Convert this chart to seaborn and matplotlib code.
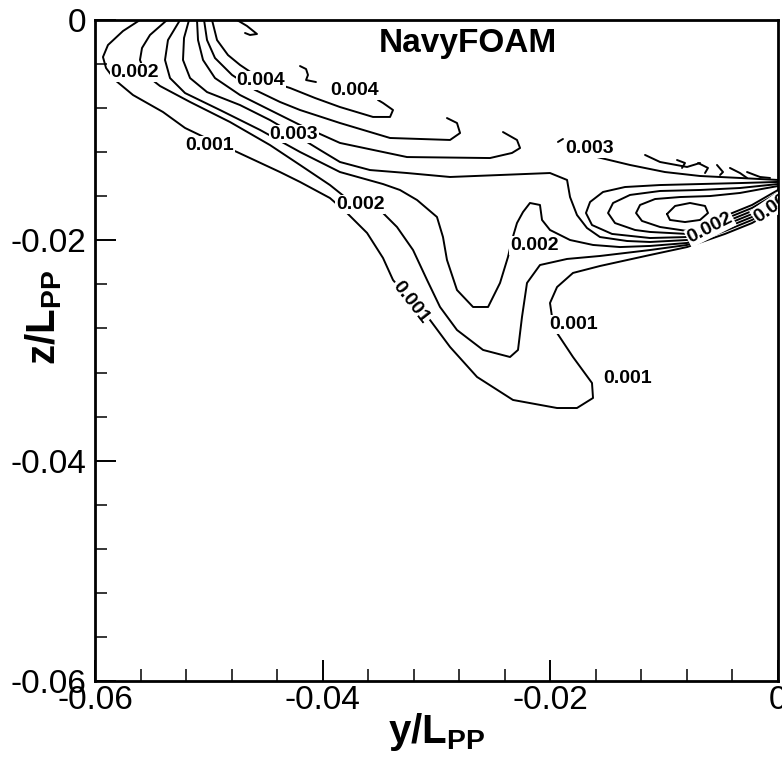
import matplotlib
matplotlib.use("Agg")
import matplotlib.pyplot as plt
from matplotlib.ticker import MultipleLocator, FixedLocator, FixedFormatter
import pandas as pd
import seaborn as sns

# ---- contour lines (y/Lpp, z/Lpp) ----
A_y = [-0.05605,-0.05754,-0.05886,-0.05930,-0.05903,-0.05824,-0.05666,-0.05403,-0.05209,-0.04990,-0.04753,-0.04375,-0.04199,-0.03936,-0.03786,-0.03610,-0.03470,-0.03382,-0.03233,-0.03057,-0.02881,-0.02644,-0.02328,-0.01941,-0.01766,-0.01625,-0.01634,-0.01801,-0.01941,-0.01985,-0.02003,-0.01941,-0.01801,-0.01564,-0.01124,-0.00799,-0.00466,-0.00228,0.0]
A_z = [0.0,-0.00100,-0.00227,-0.00336,-0.00436,-0.00545,-0.00681,-0.00835,-0.00980,-0.01089,-0.01198,-0.01380,-0.01470,-0.01616,-0.01752,-0.01933,-0.02160,-0.02360,-0.02542,-0.02723,-0.02968,-0.03240,-0.03449,-0.03522,-0.03522,-0.03431,-0.03295,-0.03059,-0.02841,-0.02696,-0.02569,-0.02424,-0.02296,-0.02233,-0.02133,-0.02061,-0.01942,-0.01843,-0.01706]

B_y = [-0.05367,-0.05517,-0.05587,-0.05605,-0.05552,-0.05429,-0.05165,-0.04814,-0.04463,-0.04199,-0.03936,-0.03804,-0.03470,-0.03347,-0.03206,-0.03083,-0.02969,-0.02820,-0.02591,-0.02354,-0.02284,-0.02249,-0.02205,-0.02091,-0.01853,-0.01564,-0.01124,-0.00799,-0.00466,-0.00228,0.0]
B_z = [0.0,-0.00136,-0.00254,-0.00363,-0.00499,-0.00599,-0.00744,-0.00926,-0.01135,-0.01316,-0.01498,-0.01607,-0.01752,-0.01879,-0.02088,-0.02360,-0.02605,-0.02814,-0.02995,-0.03059,-0.02995,-0.02696,-0.02387,-0.02224,-0.02169,-0.02142,-0.02088,-0.02042,-0.01915,-0.01815,-0.01679]

V_y = [-0.05253,-0.05359,-0.05385,-0.05341,-0.05209,-0.04902,-0.04550,-0.04199,-0.03848,-0.03470,-0.03321,-0.03171,-0.02996,-0.02943,-0.02908,-0.02820,-0.02679,-0.02547,-0.02442,-0.02372,-0.02337,-0.02293,-0.02240,-0.02179,-0.02091,-0.02073,-0.02003,-0.01827,-0.01625,-0.01388,-0.01124,-0.00799,-0.00466,-0.00228,0.0]
V_z = [0.0,-0.00182,-0.00363,-0.00527,-0.00663,-0.00817,-0.00998,-0.01198,-0.01380,-0.01489,-0.01543,-0.01634,-0.01788,-0.01970,-0.02178,-0.02451,-0.02605,-0.02605,-0.02387,-0.02151,-0.01997,-0.01843,-0.01743,-0.01661,-0.01679,-0.01815,-0.01906,-0.01997,-0.02042,-0.02061,-0.02051,-0.02024,-0.01888,-0.01788,-0.01652]

D_y = [-0.05174,-0.05218,-0.05227,-0.05165,-0.05016,-0.04726,-0.04463,-0.04252,-0.04023,-0.03848,-0.03584,-0.03259,-0.02881,-0.02442,-0.02003,-0.01853,-0.01827,-0.01766,-0.01678,-0.01564,-0.01326,-0.01124,-0.00799,-0.00466,-0.00228,0.0]
D_z = [0.0,-0.00163,-0.00363,-0.00527,-0.00654,-0.00772,-0.00908,-0.01035,-0.01180,-0.01289,-0.01362,-0.01389,-0.01425,-0.01407,-0.01389,-0.01452,-0.01607,-0.01770,-0.01888,-0.01970,-0.02006,-0.02015,-0.01997,-0.01861,-0.01761,-0.01625]

E2_y = [-0.05104,-0.05095,-0.05051,-0.04946,-0.04726,-0.04463,-0.04199,-0.03848,-0.03259,-0.02530,-0.02337,-0.02266,-0.02293,-0.02416]
E2_z = [0.0,-0.00182,-0.00363,-0.00527,-0.00681,-0.00817,-0.00953,-0.01116,-0.01244,-0.01253,-0.01207,-0.01162,-0.01089,-0.01017]

E_y = [-0.05042,-0.05016,-0.04946,-0.04796,-0.04594,-0.04375,-0.04199,-0.03848,-0.03408,-0.02881,-0.02793,-0.02820,-0.02908]
E_z = [0.0,-0.00182,-0.00345,-0.00499,-0.00635,-0.00744,-0.00817,-0.00935,-0.01071,-0.01089,-0.01026,-0.00935,-0.00890]

F_y = [-0.04972,-0.04928,-0.04832,-0.04726,-0.04542,-0.04287,-0.04067,-0.03848,-0.03558,-0.03408,-0.03382,-0.03470,-0.03514]
F_z = [0.0,-0.00182,-0.00318,-0.00408,-0.00536,-0.00617,-0.00708,-0.00790,-0.00880,-0.00880,-0.00817,-0.00753,-0.00726]

R4_y = [0.0,-0.00334,-0.00685,-0.01036,-0.01344,-0.01537,-0.01651,-0.01687,-0.01634,-0.01458,-0.01124,-0.00799,-0.00466,-0.00228,0.0]
R4_z = [-0.01470,-0.01480,-0.01489,-0.01498,-0.01516,-0.01561,-0.01652,-0.01752,-0.01861,-0.01942,-0.01979,-0.01970,-0.01834,-0.01734,-0.01598]

R3_y = [0.0,-0.00334,-0.00685,-0.01036,-0.01300,-0.01449,-0.01493,-0.01432,-0.01256,-0.01124,-0.00799,-0.00466,-0.00228,0.0]
R3_z = [-0.01489,-0.01525,-0.01543,-0.01552,-0.01588,-0.01661,-0.01752,-0.01843,-0.01906,-0.01924,-0.01942,-0.01806,-0.01706,-0.01570]

R2_y = [0.0,-0.00334,-0.00597,-0.00861,-0.01080,-0.01212,-0.01247,-0.01195,-0.01036,-0.00799,-0.00466,-0.00228,0.0]
R2_z = [-0.01507,-0.01570,-0.01598,-0.01607,-0.01625,-0.01679,-0.01752,-0.01824,-0.01879,-0.01915,-0.01779,-0.01679,-0.01543]

R1_y = [-0.00975,-0.00904,-0.00773,-0.00641,-0.00615,-0.00685,-0.00817,-0.00949,-0.00975]
R1_z = [-0.01761,-0.01688,-0.01661,-0.01688,-0.01752,-0.01815,-0.01834,-0.01815,-0.01761]

T_y = [-0.01590,-0.01300,-0.00993,-0.00685,-0.00334,0.0]
T_z = [-0.01244,-0.01316,-0.01380,-0.01416,-0.01434,-0.01452]

tick_y = [-0.01933,-0.01889]
tick_z = [-0.01107,-0.01080]

h1_y = [-0.01168,-0.01036,-0.00799,-0.00685]
h1_z = [-0.01225,-0.01289,-0.01334,-0.01298]
h2_y = [-0.00887,-0.00817,-0.00843]
h2_z = [-0.01271,-0.01298,-0.01343]
h3_y = [-0.00702,-0.00615,-0.00641]
h3_z = [-0.01298,-0.01343,-0.01389]
h4_y = [-0.00536,-0.00483,-0.00509]
h4_z = [-0.01316,-0.01380,-0.01407]
h5_y = [-0.00422,-0.00334,-0.00272]
h5_z = [-0.01343,-0.01389,-0.01434]
h6_y = [-0.00272,-0.00158,-0.00070]
h6_z = [-0.01380,-0.01425,-0.01434]

top_hook_y = [-0.04753,-0.04665,-0.04577,-0.04638,-0.04682]
top_hook_z = [0.0,-0.00054,-0.00127,-0.00136,-0.00118]
squig_y = [-0.04199,-0.04146,-0.04129,-0.04146,-0.04059]
squig_z = [-0.00418,-0.00445,-0.00499,-0.00545,-0.00563]

# ---- contour labels ----
label_text = ['0.002','0.001','0.004','0.003','0.004','0.002','0.001','0.002','0.001','0.001','0.003','0.002','0.002']
label_y = [-0.05649,-0.04990,-0.04542,-0.04252,-0.03716,-0.03672,-0.03224,-0.02143,-0.01792,-0.01318,-0.01651,-0.00597,-0.00025]
label_z = [-0.00477,-0.01135,-0.00545,-0.01035,-0.00640,-0.01675,-0.02560,-0.02046,-0.02768,-0.03250,-0.01166,-0.01888,-0.01679]
label_rot = [0,0,0,0,0,0,-52,0,0,0,0,27,35]

xtick_vals = [-0.06,-0.04,-0.02,0.0]
xtick_labels = ['-0.06','-0.04','-0.02','0']
ytick_vals = [-0.06,-0.04,-0.02,0.0]
ytick_labels = ['-0.06','-0.04','-0.02','0']
title_text = 'NavyFOAM'

lines = {
    'A': (A_y, A_z), 'B': (B_y, B_z), 'V': (V_y, V_z), 'D': (D_y, D_z),
    'E2': (E2_y, E2_z), 'E': (E_y, E_z), 'F': (F_y, F_z),
    'R4': (R4_y, R4_z), 'R3': (R3_y, R3_z), 'R2': (R2_y, R2_z), 'R1': (R1_y, R1_z),
    'T': (T_y, T_z), 'tick': (tick_y, tick_z),
    'h1': (h1_y, h1_z), 'h2': (h2_y, h2_z), 'h3': (h3_y, h3_z),
    'h4': (h4_y, h4_z), 'h5': (h5_y, h5_z), 'h6': (h6_y, h6_z),
    'top_hook': (top_hook_y, top_hook_z), 'squig': (squig_y, squig_z),
}
rows = []
for name, (ys, zs) in lines.items():
    for i, (yv, zv) in enumerate(zip(ys, zs)):
        rows.append({'line': name, 'order': i, 'y': yv, 'z': zv})
df = pd.DataFrame(rows)

sns.set_style('white')
plt.rcParams['font.family'] = ['Liberation Sans', 'DejaVu Sans']
plt.rcParams['mathtext.fontset'] = 'custom'
plt.rcParams['mathtext.bf'] = 'Liberation Sans:bold'
plt.rcParams['mathtext.rm'] = 'Liberation Sans'
plt.rcParams['text.color'] = 'black'
plt.rcParams['axes.labelcolor'] = 'black'
plt.rcParams['xtick.color'] = 'black'
plt.rcParams['ytick.color'] = 'black'

fig = plt.figure(figsize=(7.82, 7.57), dpi=100)
ax = fig.add_axes([95/782, 1-681/757, 683/782, 661/757])

sns.lineplot(data=df, x='y', y='z', units='line', estimator=None, sort=False,
             color='black', linewidth=1.4, legend=False, ax=ax)

for t, yv, zv, r in zip(label_text, label_y, label_z, label_rot):
    ax.text(yv, zv, t, rotation=r, rotation_mode='anchor', ha='center', va='center',
            fontsize=14, fontweight='bold', color='black', zorder=5, clip_on=True,
            bbox=dict(boxstyle='square,pad=0.05', fc='white', ec='none'))

ax.text(0.546, 0.965, title_text, transform=ax.transAxes, ha='center', va='center',
        fontsize=24, fontweight='bold', color='black')

ax.set_xlim(-0.06, 0.0)
ax.set_ylim(-0.06, 0.0)
ax.xaxis.set_major_locator(FixedLocator(xtick_vals))
ax.xaxis.set_major_formatter(FixedFormatter(xtick_labels))
ax.yaxis.set_major_locator(FixedLocator(ytick_vals))
ax.yaxis.set_major_formatter(FixedFormatter(ytick_labels))
ax.xaxis.set_minor_locator(MultipleLocator(0.004))
ax.yaxis.set_minor_locator(MultipleLocator(0.004))
ax.tick_params(which='both', direction='in', bottom=True, left=True, top=False, right=False,
               color='black', labelcolor='black')
ax.tick_params(which='major', length=15, width=1.4)
ax.tick_params(which='minor', length=8.5, width=1.1)
ax.tick_params(axis='x', which='major', pad=3)
ax.tick_params(axis='y', which='major', pad=6)
for lab in ax.get_xticklabels() + ax.get_yticklabels():
    lab.set_fontsize(24)
for sp in ax.spines.values():
    sp.set_linewidth(2.0)
    sp.set_color('black')

ax.set_xlabel(r'$\mathbf{y/L_{PP}}$', fontsize=29, color='black')
ax.set_ylabel(r'$\mathbf{z/L_{PP}}$', fontsize=29, color='black')
ax.xaxis.set_label_coords(0.50, -0.045)
ax.yaxis.set_label_coords(-0.045, 0.55)

fig.savefig('out.png', dpi=100)
